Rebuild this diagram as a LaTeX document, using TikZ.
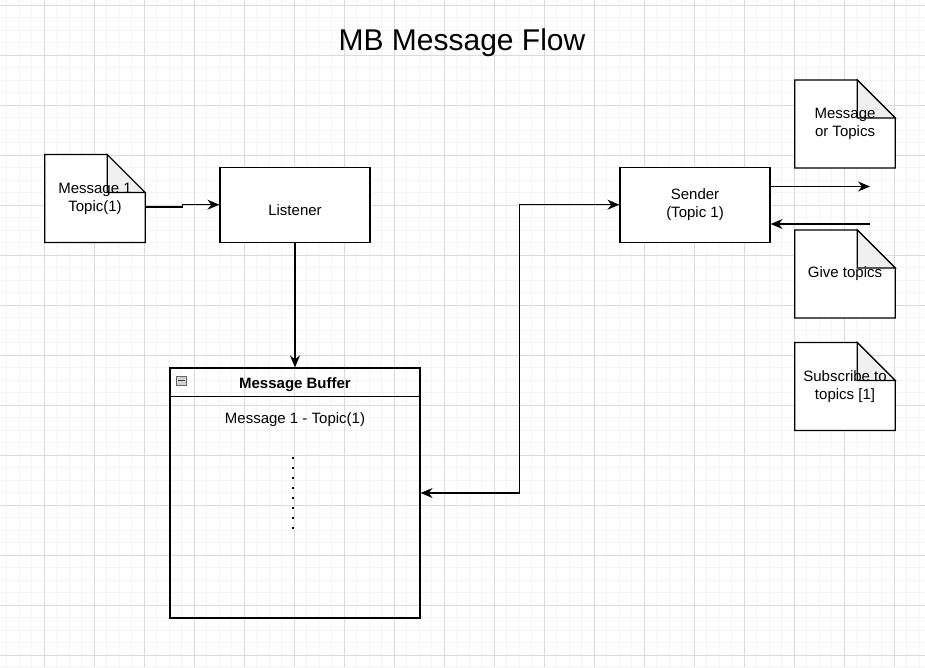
\documentclass[tikz,border=0pt]{standalone}
\usepackage{fontspec}
\setmainfont{Liberation Sans}
\usetikzlibrary{arrows.meta,positioning,backgrounds}

\newcommand{\flowfont}{\fontsize{15}{18}\selectfont}

% folded corner outline for a note node
\newcommand{\foldnote}[1]{%
  \filldraw[noteline,fill=white] (#1.north west) -- ([xshift=-38pt]#1.north east)
    -- ([yshift=-38pt]#1.north east) -- (#1.south east) -- (#1.south west) -- cycle;
  \filldraw[noteline,fill=gray!12] ([xshift=-38pt]#1.north east)
    -- ([yshift=-38pt]#1.north east) -- ([xshift=-38pt,yshift=-38pt]#1.north east) -- cycle;
}

\tikzset{
  noteline/.style={line width=1.2pt,line join=miter},
  box/.style={draw,fill=white,line width=1.2pt,minimum width=150pt,minimum height=75pt,
    inner sep=0pt,align=center,font=\flowfont},
  note/.style={minimum width=100pt,minimum height=87.5pt,inner sep=0pt,align=center,
    font=\flowfont},
  flow/.style={line width=1.2pt,-{Stealth[length=12pt,width=10pt,inset=4pt]}},
  biflow/.style={line width=1.2pt,{Stealth[length=12pt,width=10pt,inset=4pt]}-{Stealth[length=12pt,width=10pt,inset=4pt]}},
  minorgrid/.style={line width=0.8pt,black!4},
  majorgrid/.style={line width=0.8pt,black!14},
}

\begin{document}
\begin{tikzpicture}[x=1pt,y=-1pt]
\useasboundingbox (0,0) rectangle (925,667);

\begin{scope}[on background layer]
\fill[white] (0,0) rectangle (925,667);
\foreach \i in {0,...,73} \draw[minorgrid] ({6.8+12.5*\i},0) -- ({6.8+12.5*\i},667);
\foreach \i in {0,...,53} \draw[minorgrid] (0,{5.3+12.5*\i}) -- (925,{5.3+12.5*\i});
\foreach \i in {0,...,17} \draw[majorgrid] ({44.3+50*\i},0) -- ({44.3+50*\i},667);
\foreach \i in {0,...,13} \draw[majorgrid] (0,{5.3+50*\i}) -- (925,{5.3+50*\i});
\end{scope}

\node (title) at (462,43) {\fontsize{30}{36}\selectfont MB Message Flow};

\node[note] (msg1) at (95,198.5) {Message 1\\Topic(1)};
\node[box,text height=21pt,text depth=0pt] (listener) at (295,204.7) {Listener};
\node[box] (sender) at (695,204.7) {Sender\\(Topic 1)};

\node[note] (msgtopics) at (845,124) {Message\\or Topics};
\node[note] (givetopics) at (845,274) {Give topics};
\node[note] (subscribe) at (845,386.5) {Subscribe to\\topics [1]};

\begin{scope}[on background layer]
\foldnote{msg1}
\foldnote{msgtopics}
\foldnote{givetopics}
\foldnote{subscribe}
\end{scope}

% message buffer
\node[draw,line width=1.2pt,minimum width=250pt,minimum height=250pt,inner sep=0pt] (buffer) at (295,493) {};
\draw[line width=1.2pt] ([yshift=-29pt]buffer.north west) -- ([yshift=-29pt]buffer.north east);
\draw[draw=gray!80!black,fill=gray!35] (176,376.5) rectangle (186,385);
\draw[line width=1.2pt,black!75] (177.5,380.7) -- (184.5,380.7);
\node[font=\flowfont\bfseries] (bufhead) at (295,384.5) {Message Buffer};
\node[font=\flowfont] (bufitem) at (295,419.5) {Message 1 - Topic(1)};
\foreach \y in {458,468,...,528} \fill (292.3,\y-1) rectangle (294.3,\y+1);

% connectors
\draw[flow] ([yshift=-8.5pt]msg1.east) -- ++(37,0) |- (listener.west);
\draw[flow] (listener.south) -- (buffer.north);
\draw[biflow] (sender.west) -- ++(-100,0) |- (buffer.east);

\coordinate (outend) at (870,186.5);
\coordinate (inbeg) at (870,224);
\draw[flow] (sender.east |- outend) -- (outend);
\draw[flow] (inbeg) -- (sender.east |- inbeg);

\end{tikzpicture}
\end{document}
